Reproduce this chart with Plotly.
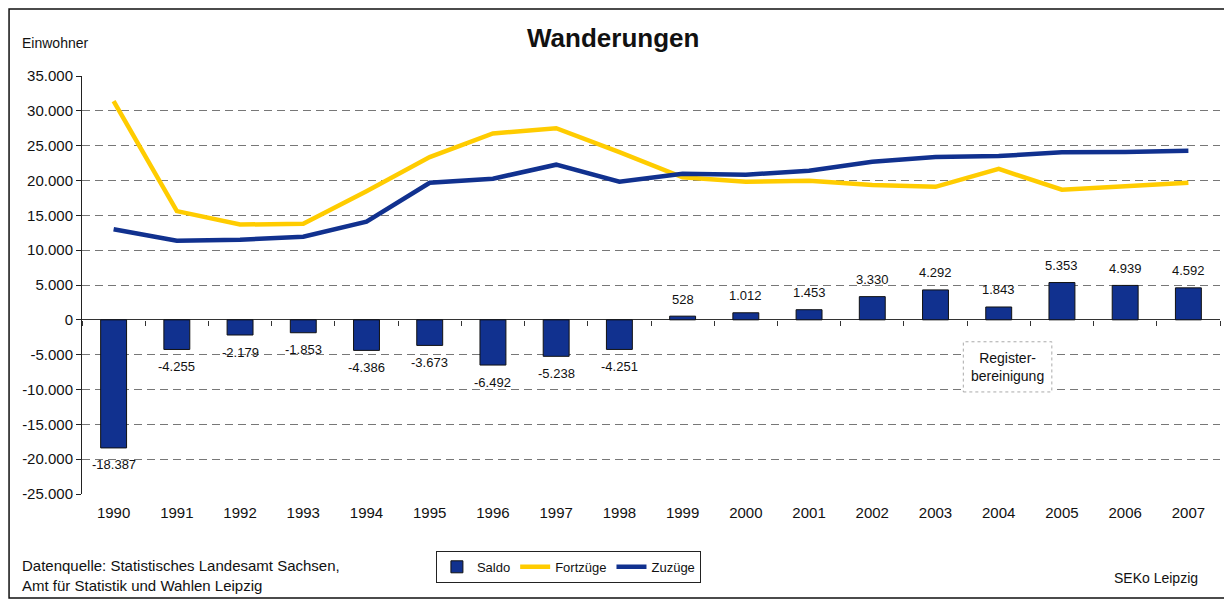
import plotly.graph_objects as go

years = list(range(1990, 2008))
saldo = [-18387, -4255, -2179, -1853, -4386, -3673, -6492, -5238, -4251,
         528, 1012, 1453, 3330, 4292, 1843, 5353, 4939, 4592]
zuzuege = [13000, 11350, 11500, 11930, 14080, 19680, 20260, 22270, 19830,
           20980, 20830, 21410, 22700, 23380, 23500, 24040, 24100, 24280]
fortzuege = [31387, 15605, 13679, 13783, 18466, 23353, 26752, 27508, 24081,
             20452, 19818, 19957, 19370, 19088, 21657, 18687, 19161, 19688]

y_min, y_max, y_step = -25000, 35000, 5000
tick_vals = list(range(y_min, y_max + 1, y_step))
tick_text = [f"{v:,}".replace(",", ".") for v in tick_vals]
saldo_text = [f"{v:,}".replace(",", ".") for v in saldo]

BLUE = "#11318F"
YELLOW = "#FFCC00"
FONT = "Liberation Sans, Arial, sans-serif"

fig = go.Figure()
fig.add_trace(go.Bar(x=years, y=saldo, name="Saldo", width=0.41,
                     marker=dict(color=BLUE, line=dict(color="#111111", width=1)),
                     hoverinfo="x+y"))
fig.add_trace(go.Scatter(x=years, y=fortzuege, name="Fortzüge", mode="lines",
                         line=dict(color=YELLOW, width=4.5)))
fig.add_trace(go.Scatter(x=years, y=zuzuege, name="Zuzüge", mode="lines",
                         line=dict(color=BLUE, width=4.5)))
# invisible trace to activate the tick axis at zero
fig.add_trace(go.Scatter(x=[years[0]], y=[None], xaxis="x2", showlegend=False,
                         hoverinfo="skip"))

for yr, v, t in zip(years, saldo, saldo_text):
    fig.add_annotation(x=yr, y=v, text=t, showarrow=False,
                       yshift=17 if v > 0 else -17,
                       font=dict(size=13, color="#111111", family=FONT))

zero_pos = (0 - y_min) / (y_max - y_min)

fig.update_layout(
    width=1224, height=594,
    margin=dict(l=74, r=12, t=68, b=108, autoexpand=False),
    paper_bgcolor="white", plot_bgcolor="white",
    font=dict(family=FONT, color="#111111"),
    showlegend=True,
    legend=dict(orientation="h", x=0.311, xanchor="left", y=-0.136, yanchor="top",
                bordercolor="#222222", borderwidth=1, bgcolor="white",
                font=dict(size=13), itemwidth=30, traceorder="normal"),
    xaxis=dict(range=[years[0] - 0.5, years[-1] + 0.5], tickvals=years,
               ticktext=[str(y) for y in years], showgrid=False, showline=False,
               zeroline=False, ticks="", tickfont=dict(size=15), ticklabelstandoff=8,
               automargin=False),
    xaxis2=dict(overlaying="x", anchor="free", position=zero_pos, side="bottom",
                range=[years[0] - 0.5, years[-1] + 0.5], tick0=years[0] + 0.5, dtick=1,
                ticks="outside", ticklen=5, tickcolor="#333333", tickwidth=1,
                showticklabels=False, showgrid=False, showline=False, zeroline=False),
    yaxis=dict(range=[y_min, y_max], tickvals=tick_vals, ticktext=tick_text,
               showgrid=True, gridcolor="#777777", griddash="8px,5px", gridwidth=1,
               zeroline=True, zerolinecolor="#333333", zerolinewidth=1,
               showline=True, linecolor="#222222", linewidth=1,
               ticks="outside", ticklen=5, tickcolor="#222222",
               tickfont=dict(size=15), automargin=False),
    shapes=[
        dict(type="rect", xref="paper", yref="paper", x0=-0.0641, x1=1.0053,
             y0=-0.249, y1=1.160, line=dict(color="#111111", width=1.5)),
        dict(type="rect", xref="x", yref="y", x0=2003.44, x1=2004.84,
             y0=-10350, y1=-3150, line=dict(color="#AAAAAA", width=1, dash="dot"),
             fillcolor="white", layer="above"),
    ],
    annotations=list(fig.layout.annotations) + [
        dict(text="<b>Wanderungen</b>", xref="paper", yref="paper", x=0.467, y=1.091,
             xanchor="center", yanchor="middle", showarrow=False,
             font=dict(size=26, color="#111111")),
        dict(text="Register-<br>bereinigung", x=2004.14, y=-6750, xref="x", yref="y",
             showarrow=False, font=dict(size=14, color="#111111")),
        dict(text="Einwohner", xref="paper", yref="paper", x=-0.0545, y=1.079,
             xanchor="left", yanchor="middle", showarrow=False, font=dict(size=14)),
        dict(text="Datenquelle: Statistisches Landesamt Sachsen,<br>Amt für Statistik und Wahlen Leipzig",
             xref="paper", yref="paper", x=-0.0545, y=-0.196, xanchor="left",
             yanchor="middle", align="left", showarrow=False, font=dict(size=15)),
        dict(text="SEKo Leipzig", xref="paper", yref="paper", x=0.9824, y=-0.201,
             xanchor="right", yanchor="middle", showarrow=False, font=dict(size=14)),
    ],
)

fig.write_html("out.html")
